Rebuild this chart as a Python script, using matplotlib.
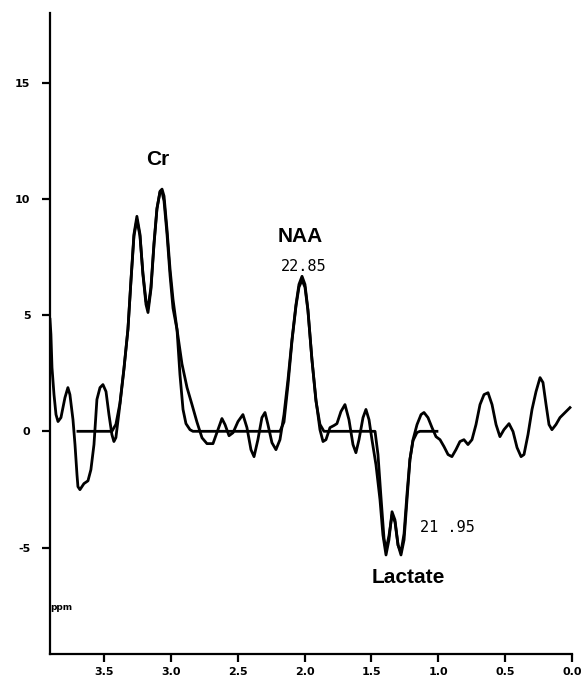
import matplotlib
matplotlib.use('Agg')
import matplotlib.pyplot as plt

meas_ppm = [3.904, 3.897, 3.889, 3.874, 3.859, 3.844, 3.822, 3.792, 3.770, 3.755,
            3.732, 3.717, 3.702, 3.695, 3.680, 3.650, 3.620, 3.598, 3.575, 3.553,
            3.530, 3.508, 3.485, 3.463, 3.441, 3.426, 3.411, 3.381, 3.351, 3.321,
            3.298, 3.276, 3.254, 3.231, 3.209, 3.186, 3.171, 3.149, 3.126, 3.104,
            3.081, 3.066, 3.051, 3.029, 3.006, 2.984, 2.954, 2.917, 2.879, 2.842,
            2.805, 2.767, 2.730, 2.685, 2.648, 2.618, 2.595, 2.565, 2.535, 2.498,
            2.461, 2.431, 2.401, 2.378, 2.349, 2.319, 2.296, 2.274, 2.244, 2.214,
            2.184, 2.154, 2.124, 2.094, 2.064, 2.042, 2.019, 1.997, 1.975, 1.945,
            1.915, 1.885, 1.862, 1.840, 1.810, 1.780, 1.758, 1.728, 1.698, 1.668,
            1.638, 1.616, 1.593, 1.563, 1.541, 1.518, 1.496, 1.466, 1.436, 1.414,
            1.391, 1.369, 1.346, 1.324, 1.301, 1.279, 1.256, 1.234, 1.212, 1.189,
            1.159, 1.129, 1.107, 1.077, 1.047, 1.017, 0.987, 0.957, 0.927, 0.898,
            0.868, 0.838, 0.808, 0.778, 0.748, 0.718, 0.688, 0.658, 0.628, 0.598,
            0.568, 0.539, 0.509, 0.471, 0.441, 0.411, 0.381, 0.359, 0.329, 0.299,
            0.269, 0.239, 0.217, 0.194, 0.172, 0.150, 0.120, 0.090, 0.052, 0.015]
meas_val = [4.82, 4.17, 2.74, 1.58, 0.72, 0.42, 0.59, 1.45, 1.88, 1.58,
            0.50, -0.57, -1.87, -2.38, -2.51, -2.25, -2.13, -1.65, -0.57, 1.37,
            1.88, 2.01, 1.71, 0.72, -0.14, -0.44, -0.27, 1.15, 2.66, 4.38,
            6.54, 8.48, 9.25, 8.48, 6.75, 5.46, 5.11, 6.11, 8.05, 9.56,
            10.33, 10.42, 10.12, 8.69, 6.97, 5.68, 4.38, 2.90, 1.88, 1.15,
            0.40, -0.28, -0.53, -0.53, 0.07, 0.55, 0.29, -0.19, -0.06, 0.42,
            0.72, 0.16, -0.79, -1.09, -0.36, 0.59, 0.81, 0.29, -0.49, -0.79,
            -0.36, 0.72, 2.23, 3.95, 5.46, 6.32, 6.67, 6.32, 5.24, 3.09,
            1.37, 0.07, -0.44, -0.36, 0.16, 0.25, 0.33, 0.85, 1.15, 0.50,
            -0.57, -0.92, -0.36, 0.59, 0.94, 0.50, -0.36, -1.44, -2.94, -4.46,
            -5.32, -4.67, -3.46, -3.81, -4.89, -5.32, -4.67, -2.94, -1.22, -0.36,
            0.29, 0.72, 0.81, 0.59, 0.16, -0.23, -0.36, -0.66, -1.00, -1.09,
            -0.79, -0.44, -0.36, -0.57, -0.36, 0.29, 1.15, 1.58, 1.66, 1.15,
            0.29, -0.23, 0.07, 0.33, -0.01, -0.70, -1.09, -1.00, -0.14, 0.94,
            1.71, 2.31, 2.10, 1.15, 0.29, 0.07, 0.29, 0.59, 0.81, 1.02]

# fitted curve
fit_ppm = [3.695, 3.441, 3.411, 3.381, 3.351, 3.321, 3.298, 3.276, 3.254, 3.231,
           3.209, 3.186, 3.171, 3.149, 3.126, 3.104, 3.081, 3.066, 3.051, 3.029,
           3.006, 2.984, 2.954, 2.932, 2.909, 2.887, 2.857, 2.835, 2.184, 2.154,
           2.124, 2.094, 2.064, 2.042, 2.019, 1.997, 1.975, 1.945, 1.915, 1.885,
           1.855, 1.473, 1.451, 1.429, 1.406, 1.391, 1.369, 1.346, 1.324, 1.301,
           1.279, 1.256, 1.234, 1.212, 1.189, 1.159, 1.137, 1.010]
fit_val = [0.0, 0.0, 0.3, 1.2, 2.7, 4.4, 6.5, 8.4, 9.1, 8.4,
           6.8, 5.6, 5.3, 6.2, 8.1, 9.6, 10.3, 10.3, 9.9, 8.5,
           6.7, 5.3, 4.38, 2.44, 0.94, 0.33, 0.07, 0.0, 0.0, 0.4,
           2.0, 3.9, 5.4, 6.2, 6.5, 6.2, 5.2, 3.1, 1.3, 0.3,
           0.0, 0.0, -1.0, -2.8, -4.6, -5.1, -4.5, -3.6, -3.9, -4.9,
           -5.2, -4.4, -2.7, -1.2, -0.4, -0.05, 0.0, 0.0]

x_ticks = [3.5, 3.0, 2.5, 2.0, 1.5, 1.0, 0.5, 0.0]
y_ticks = [-5, 0, 5, 10, 15]

fig = plt.figure(figsize=(5.86, 6.81), dpi=100)
ax = fig.add_axes([0.0853, 0.039, 0.8908, 0.942])

ax.plot(meas_ppm, meas_val, color='black', lw=2.0)
ax.plot(fit_ppm, fit_val, color='black', lw=2.0)

ax.set_xlim(3.904, 0.0)
ax.set_ylim(-9.6, 18.0)

for s in ['top', 'right']:
    ax.spines[s].set_visible(False)
for s in ['left', 'bottom']:
    ax.spines[s].set_linewidth(1.6)

ax.set_xticks(x_ticks)
ax.set_xticklabels([f'{t:.1f}' for t in x_ticks])
ax.set_yticks(y_ticks)
ax.set_yticklabels([str(t) for t in y_ticks])
ax.tick_params(axis='both', length=6, width=1.6, labelsize=8, direction='out')
ax.tick_params(axis='x', pad=3)
ax.tick_params(axis='y', pad=8)
for lbl in ax.get_xticklabels() + ax.get_yticklabels():
    lbl.set_fontweight('bold')

# annotations
ax.text(3.10, 11.7, 'Cr', ha='center', va='center', fontsize=15,
        family='Liberation Sans', fontweight='bold')
ax.text(2.03, 8.4, 'NAA', ha='center', va='center', fontsize=15,
        family='Liberation Sans', fontweight='bold')
ax.text(2.01, 7.1, '22.85', ha='center', va='center', fontsize=11,
        family='DejaVu Sans Mono')
ax.text(1.137, -4.15, '21 .95', ha='left', va='center', fontsize=11,
        family='DejaVu Sans Mono')
ax.text(1.227, -6.3, 'Lactate', ha='center', va='center', fontsize=15,
        family='Liberation Sans', fontweight='bold')
ax.text(3.90, -7.6, 'ppm', ha='left', va='center', fontsize=6.5,
        fontweight='bold')

fig.savefig('out.png', dpi=100)
